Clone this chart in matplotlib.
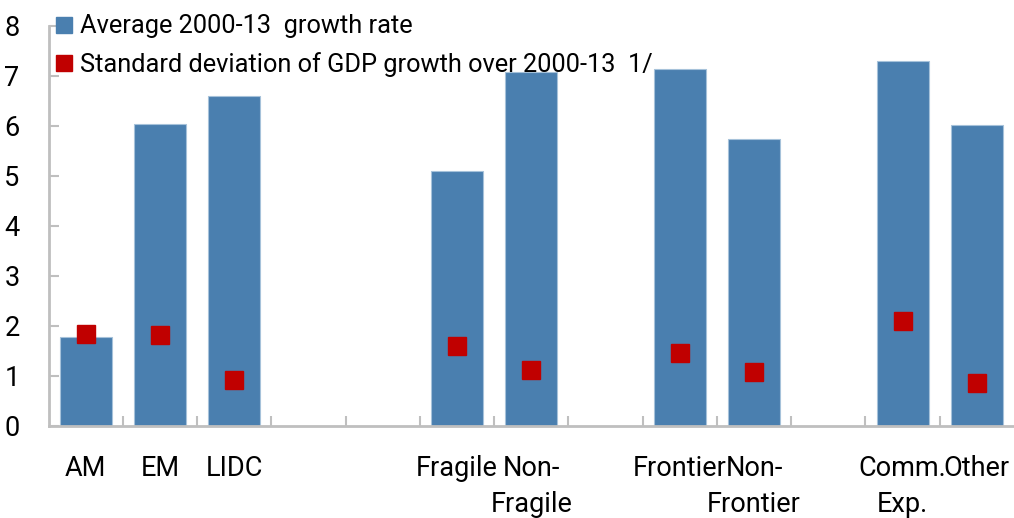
import matplotlib
matplotlib.use("Agg")
import matplotlib.pyplot as plt
from matplotlib.lines import Line2D
import numpy as np

plt.rcParams["font.family"] = ["Roboto", "DejaVu Sans"]

categories = ["AM", "EM", "LIDC", "", "", "Fragile", "Non-\nFragile", "",
              "Frontier", "Non-\nFrontier", "", "Comm.\nExp.", "Other"]
avg_growth = [1.78, 6.03, 6.6, np.nan, np.nan, 5.1, 7.07, np.nan,
              7.13, 5.74, np.nan, 7.3, 6.02]
std_growth = [1.83, 1.81, 0.91, np.nan, np.nan, 1.59, 1.11, np.nan,
              1.45, 1.07, np.nan, 2.09, 0.85]

blue = "#4A7FAF"
red = "#C00000"
grey = "#BFBFBF"

fig = plt.figure(figsize=(10.14, 5.18), dpi=100)
ax = fig.add_axes([0.048, 0.178, 0.952, 0.772])

x = np.arange(len(categories))
ax.bar(x, avg_growth, width=0.7, color=blue, edgecolor="#A6C2DA", linewidth=0.8, zorder=2)
ax.plot(x, std_growth, linestyle="none", marker="s", markersize=13.5,
        color=red, zorder=3)

ax.set_xlim(-0.5, len(categories) - 0.5)
ax.set_ylim(0, 8)
ax.set_yticks(range(0, 9))

ax.set_xticks(x)
ax.set_xticklabels(categories, fontsize=19.5, linespacing=1.45)
ax.set_xticks(np.arange(0.5, len(categories) - 0.5), minor=True)
ax.tick_params(axis="x", which="major", length=0, pad=21)
ax.tick_params(axis="x", which="minor", direction="in", length=7, width=1.5, color=grey)
ax.tick_params(axis="y", direction="in", length=7, width=1.5, color=grey,
               labelsize=19.5, pad=21)

for side in ["top", "right"]:
    ax.spines[side].set_visible(False)
for side in ["left", "bottom"]:
    ax.spines[side].set_color(grey)
    ax.spines[side].set_linewidth(2)

handles = [
    Line2D([], [], linestyle="none", marker="s", markersize=11.5, color=blue),
    Line2D([], [], linestyle="none", marker="s", markersize=11.5, color=red),
]
labels = ["Average 2000-13  growth rate",
          "Standard deviation of GDP growth over 2000-13  1/"]
ax.legend(handles, labels, loc="upper left", bbox_to_anchor=(0.003, 1.035),
          frameon=False, fontsize=18.3, handlelength=0.8, handletextpad=0.2,
          labelspacing=0.55, borderaxespad=0.0, borderpad=0.1)

fig.savefig("out.png", dpi=100)
